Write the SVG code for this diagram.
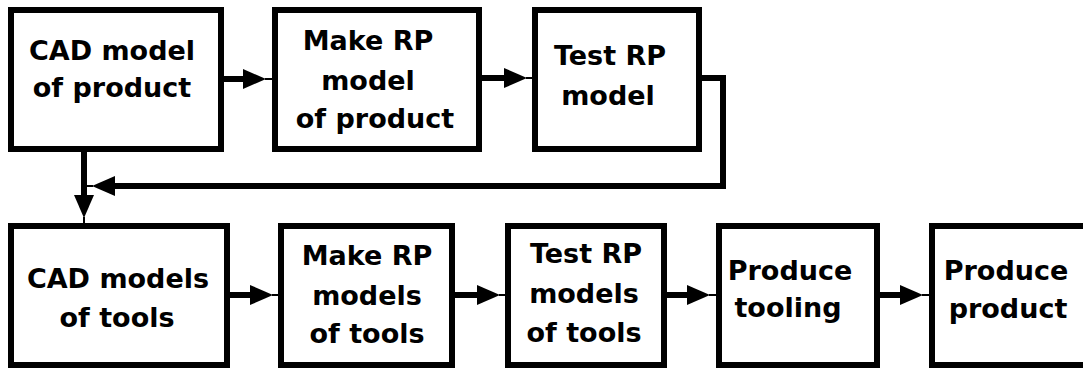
<svg xmlns="http://www.w3.org/2000/svg" width="1083" height="370" viewBox="0 0 1083 370">
  <defs>
    <style>
      .box { fill: #ffffff; stroke: #000000; stroke-width: 6; }
      .lbl { font-family: "DejaVu Sans", Verdana, sans-serif; font-weight: bold; font-size: 27px; fill: #000000; text-anchor: middle; }
      .link { fill: none; stroke: #000000; stroke-width: 6; stroke-linejoin: miter; marker-end: url(#head); }
    </style>
    <!-- filled arrowhead (base at the line end) with a thin tail reaching the target box -->
    <marker id="head" markerUnits="userSpaceOnUse" markerWidth="32" markerHeight="24" viewBox="0 -12 32 24" refX="0" refY="0" orient="auto" overflow="visible">
      <path d="M0,-10 L23,0 L0,10 Z" fill="#000000"/>
      <path d="M22,0 H30" stroke="#000000" stroke-width="2" fill="none"/>
    </marker>
  </defs>

  <rect width="1083" height="370" fill="#ffffff"/>

  <!-- upper row -->
  <g id="cad-product">
    <rect class="box" x="11" y="10" width="210" height="139"/>
    <text class="lbl" x="112" y="60">CAD model</text>
    <text class="lbl" x="112" y="97">of product</text>
  </g>
  <g id="make-rp-product">
    <rect class="box" x="275" y="10" width="204" height="139"/>
    <text class="lbl" x="368" y="50">Make RP</text>
    <text class="lbl" x="368" y="90">model</text>
    <text class="lbl" x="375" y="128">of product</text>
  </g>
  <g id="test-rp-model">
    <rect class="box" x="535" y="10" width="164" height="139"/>
    <text class="lbl" x="610" y="65">Test RP</text>
    <text class="lbl" x="608" y="105">model</text>
  </g>

  <!-- lower row -->
  <g id="cad-tools">
    <rect class="box" x="11" y="226" width="216" height="139"/>
    <text class="lbl" x="118" y="288">CAD models</text>
    <text class="lbl" x="117" y="327">of tools</text>
  </g>
  <g id="make-rp-tools">
    <rect class="box" x="281" y="226" width="171" height="139"/>
    <text class="lbl" x="367" y="265">Make RP</text>
    <text class="lbl" x="367" y="305">models</text>
    <text class="lbl" x="367" y="343">of tools</text>
  </g>
  <g id="test-rp-tools">
    <rect class="box" x="508" y="226" width="156" height="139"/>
    <text class="lbl" x="586" y="263">Test RP</text>
    <text class="lbl" x="584" y="303">models</text>
    <text class="lbl" x="584" y="342">of tools</text>
  </g>
  <g id="produce-tooling">
    <rect class="box" x="719" y="226" width="158" height="139"/>
    <text class="lbl" x="790" y="280">Produce</text>
    <text class="lbl" x="788" y="317">tooling</text>
  </g>
  <g id="produce-product">
    <rect class="box" x="932" y="226" width="170" height="139"/>
    <text class="lbl" x="1006" y="280">Produce</text>
    <text class="lbl" x="1008" y="318">product</text>
  </g>

  <g id="connectors">
    <path class="link" d="M224,79 H243"/>
    <path class="link" d="M482,78 H504"/>
    <path class="link" d="M699,78 H723 V186 H115"/>
    <path class="link" d="M84,152 V195"/>
    <path class="link" d="M230,295 H250"/>
    <path class="link" d="M455,295 H477"/>
    <path class="link" d="M667,295 H687"/>
    <path class="link" d="M880,295 H900"/>
  </g>
</svg>
